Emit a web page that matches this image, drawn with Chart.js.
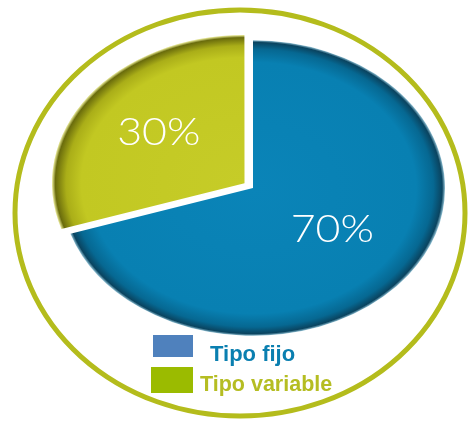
<!DOCTYPE html>
<html>
<head>
<meta charset="utf-8">
<script src="https://cdn.jsdelivr.net/npm/chart.js@4/dist/chart.umd.min.js"></script>
<style>
  body { margin: 0; background: #fff; }
  #wrap { position: relative; width: 468px; height: 423px; }
  #legend { position: absolute; left: 0; top: 0; }
  .box { position: absolute; }
  .txt { position: absolute; font-family: "Liberation Sans", Arial, sans-serif; font-weight: bold; line-height: 1; white-space: nowrap; }
</style>
</head>
<body>
<div id="wrap">
  <canvas id="chart" width="468" height="423"></canvas>
  <div id="legend"></div>
</div>
<script>
const labels = ['Tipo fijo', 'Tipo variable'];
const values = [70, 30];
const sliceColors = ['#0880b2', '#c2c822'];
const legendBoxColors = ['#4f81bd', '#9bbb00'];
const legendTextColors = ['#0a7fb0', '#b5bd22'];

// pie is squashed vertically to look tilted
const tilt = 0.77;

// shaded rim for each slice
const rims = [
  [[0, '#0a84b8'], [0.85, '#0880b2'], [0.94, '#066892'], [0.985, '#0a4460'], [1, '#8fbfd2']],
  [[0, '#c6cc28'], [0.85, '#c2c822'], [0.93, '#aaae18'], [0.985, '#6a6c0c'], [1, '#dcdd88']]
];

function sliceFill(ctx) {
  const chart = ctx.chart;
  const area = chart.chartArea;
  if (!area) return sliceColors[ctx.dataIndex];
  const cx = (area.left + area.right) / 2;
  const cy = (area.top + area.bottom) / 2;
  const g = chart.ctx.createRadialGradient(cx, cy, 0, cx, cy, 192);
  rims[ctx.dataIndex].forEach(s => g.addColorStop(s[0], s[1]));
  return g;
}

// how far Chart.js actually moves an arc for a given offset
function shift(arc) {
  const o = (arc.options.offset || 0) / 4;
  const fix = 1 - Math.sin(Math.min(Math.PI, arc.circumference || 0));
  return o * (1 + fix);
}

const tiltPlugin = {
  id: 'tilt',
  beforeDraw(chart) {
    // outer ring
    const c = chart.ctx;
    c.save();
    c.beginPath();
    c.ellipse(240, 213, 225, 203, 0, 0, Math.PI * 2);
    c.lineWidth = 5;
    c.strokeStyle = '#b4bc1c';
    c.stroke();
    c.restore();
  },
  beforeDatasetsDraw(chart) {
    const arc = chart.getDatasetMeta(0).data[0];
    const c = chart.ctx;
    c.save();
    c.translate(arc.x, arc.y);
    c.scale(1, tilt);
    c.translate(-arc.x, -arc.y);
  },
  afterDatasetsDraw(chart) {
    const c = chart.ctx;
    c.restore();
    // percentage labels
    const total = values.reduce((a, b) => a + b, 0);
    chart.getDatasetMeta(0).data.forEach((arc, i) => {
      const mid = (arc.startAngle + arc.endAngle) / 2;
      const r = arc.outerRadius * 0.53 + shift(arc);
      const x = arc.x + Math.cos(mid) * r - 3;
      const y = arc.y + Math.sin(mid) * r * tilt - 4;
      c.save();
      c.translate(x, y);
      c.scale(1.16, 1);
      c.fillStyle = '#fff';
      c.font = '300 37px Lato, "Open Sans", sans-serif';
      c.textAlign = 'center';
      c.textBaseline = 'middle';
      c.fillText(Math.round(values[i] / total * 100) + '%', 0, 0);
      c.restore();
    });
  }
};

new Chart(document.getElementById('chart'), {
  type: 'pie',
  data: {
    labels: labels,
    datasets: [{
      data: values,
      backgroundColor: sliceFill,
      borderWidth: 0,
      offset: [0, 42],
      radius: 192
    }]
  },
  options: {
    responsive: false,
    animation: false,
    events: [],
    layout: { padding: { left: 38, right: 0, top: 0, bottom: 47 } },
    plugins: {
      legend: { display: false },
      tooltip: { enabled: false }
    }
  },
  plugins: [tiltPlugin]
});

// legend below the pie
const legendSpots = [
  { box: [153, 335, 40, 22], text: [210, 343], size: 22 },
  { box: [151, 367, 42, 26], text: [200, 374], size: 21.5 }
];
const legend = document.getElementById('legend');
labels.forEach((name, i) => {
  const s = legendSpots[i];
  const b = document.createElement('div');
  b.className = 'box';
  b.style.cssText = `left:${s.box[0]}px;top:${s.box[1]}px;width:${s.box[2]}px;height:${s.box[3]}px;background:${legendBoxColors[i]}`;
  const t = document.createElement('div');
  t.className = 'txt';
  t.style.cssText = `left:${s.text[0]}px;top:${s.text[1]}px;font-size:${s.size}px;color:${legendTextColors[i]}`;
  t.textContent = name;
  legend.appendChild(b);
  legend.appendChild(t);
});
</script>
</body>
</html>
